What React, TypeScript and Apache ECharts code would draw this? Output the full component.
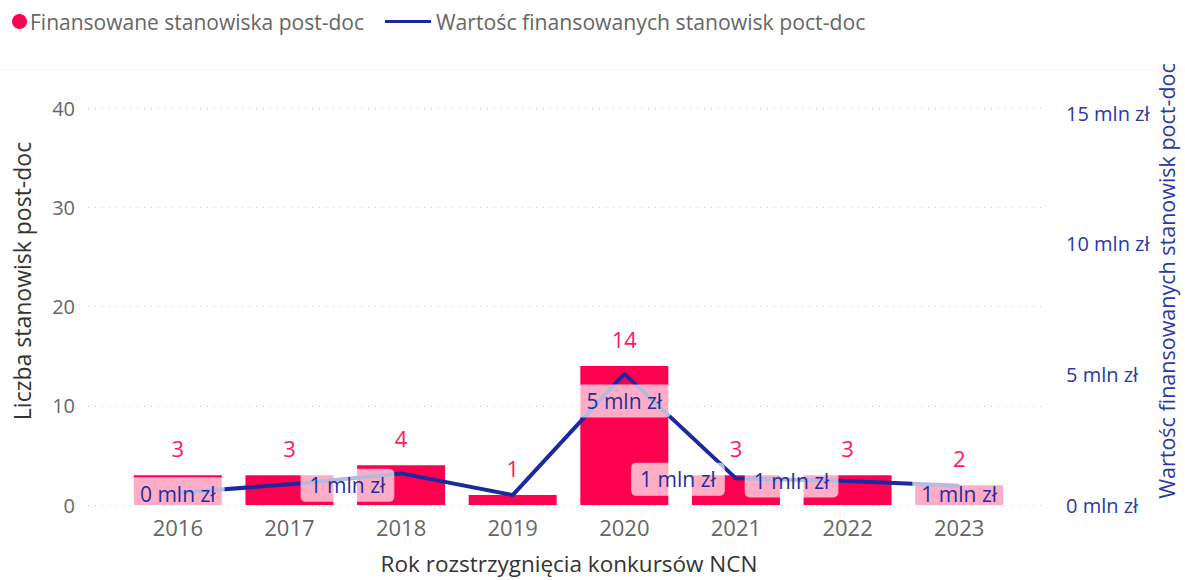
import React, { useEffect, useRef } from "react";
import * as echarts from "echarts";

const years = ["2016", "2017", "2018", "2019", "2020", "2021", "2022", "2023"];
const positions = [3, 3, 4, 1, 14, 3, 3, 2];
const valuesMln = [0.47, 0.79, 1.21, 0.38, 5.02, 1.02, 0.92, 0.74];
// which line labels are shown, and their offset from the point
const lineLabelShown = [true, true, false, false, true, true, true, true];
const lineLabelOffsets: [number, number][] = [
  [0, 1], [58, 1], [0, 0], [0, 0], [0, 27], [-58, 1], [-56, 0], [0, 8],
];

const leftTicks = [0, 10, 20, 30, 40];
const rightTicks = [0, 5, 10, 15];

const seriesNames = [
  "Finansowane stanowiska post-doc",
  "Wartośc finansowanych stanowisk poct-doc",
];
const axisTitles = {
  left: "Liczba stanowisk post-doc",
  right: "Wartośc finansowanych stanowisk poct-doc",
  bottom: "Rok rozstrzygnięcia konkursów NCN",
};

const FONT = "'Segoe UI', 'Open Sans', sans-serif";
const RED = "#FF0050";
const BLUE = "#1A2A9E";
const BLUE_TXT = "#2A3AA6";

export default function App() {
  const ref = useRef<HTMLDivElement>(null);
  useEffect(() => {
    if (!ref.current) return;
    const chart = echarts.init(ref.current, null, { renderer: "svg" });
    const top = 108;
    const bottom = 580 - 505;
    const option: any = {
      animation: false,
      textStyle: { fontFamily: FONT },
      legend: [
        {
          data: [{ name: seriesNames[0], icon: "circle" }],
          left: 7,
          top: 6,
          itemWidth: 15,
          itemHeight: 15,
          itemGap: 0,
          textStyle: { color: "#666", fontSize: 21, fontFamily: FONT, padding: [0, 0, 0, -2] },
          selectedMode: false,
        },
        {
          data: [{ name: seriesNames[1], icon: "path://M0,0H46V3H0Z" }],
          left: 380,
          top: 6,
          itemWidth: 46,
          itemHeight: 3,
          textStyle: { color: "#666", fontSize: 21.2, fontFamily: FONT },
          selectedMode: false,
        },
      ],
      grid: [
        { left: 88, right: 1185 - 1045, top, bottom },
        { left: 122, right: 1185 - 1015, top, bottom },
      ],
      xAxis: [
        { type: "category", gridIndex: 0, data: years, show: false },
        {
          type: "category",
          gridIndex: 1,
          data: years,
          axisLine: { show: false },
          axisTick: { show: false },
          axisLabel: { color: "#666", fontSize: 22, margin: 11, fontFamily: FONT },
        },
      ],
      yAxis: [
        {
          type: "value",
          gridIndex: 0,
          min: 0,
          max: 40,
          interval: 10,
          axisLabel: { show: false },
          axisLine: { show: false },
          axisTick: { show: false },
          splitLine: { lineStyle: { color: "#c8c8c8", type: [1, 6], width: 1 } },
        },
        {
          type: "value",
          gridIndex: 1,
          min: leftTicks[0],
          max: leftTicks[leftTicks.length - 1],
          interval: 10,
          axisLine: { show: false },
          axisTick: { show: false },
          splitLine: { show: false },
          axisLabel: { color: "#666", fontSize: 20, margin: 47, fontFamily: FONT },
        },
        {
          type: "value",
          gridIndex: 1,
          position: "right",
          min: rightTicks[0],
          max: 15.2,
          interval: 5,
          axisLine: { show: false },
          axisTick: { show: false },
          splitLine: { show: false },
          axisLabel: {
            color: BLUE_TXT,
            fontSize: 20,
            margin: 51,
            showMaxLabel: false,
            fontFamily: FONT,
            formatter: (v: number) => `${v} mln zł`,
          },
        },
      ],
      series: [
        {
          name: seriesNames[0],
          type: "bar",
          xAxisIndex: 1,
          yAxisIndex: 1,
          data: positions,
          barWidth: 88,
          itemStyle: { color: RED },
          label: {
            show: true,
            position: "top",
            distance: 16,
            color: "#FF1A5A",
            fontSize: 22,
            fontFamily: FONT,
          },
        },
        {
          name: seriesNames[1],
          type: "line",
          xAxisIndex: 1,
          yAxisIndex: 2,
          showSymbol: true,
          symbol: "circle",
          symbolSize: 1,
          lineStyle: { color: BLUE, width: 4 },
          itemStyle: { color: BLUE },
          data: valuesMln.map((v, i) => ({
            value: v,
            label: {
              show: lineLabelShown[i],
              position: "inside",
              offset: lineLabelOffsets[i],
              formatter: () => `${Math.round(v)} mln zł`,
              color: "#1E2E9C",
              fontSize: 21,
              fontFamily: FONT,
              backgroundColor: "rgba(255,255,255,0.68)",
              padding: [6, 9, 6, 9],
              borderRadius: 5,
            },
          })),
          z: 3,
        },
      ],
      graphic: [
        {
          type: "line",
          shape: { x1: 0, y1: 70, x2: 1185, y2: 70 },
          style: { stroke: "#f6f6f6", lineWidth: 1 },
        },
        {
          type: "text",
          x: 22,
          y: 281,
          rotation: Math.PI / 2,
          style: {
            text: axisTitles.left,
            fill: "#333",
            fontSize: 23,
            fontFamily: FONT,
            align: "center",
            verticalAlign: "middle",
          },
        },
        {
          type: "text",
          x: 1166,
          y: 281,
          rotation: Math.PI / 2,
          style: {
            text: axisTitles.right,
            fill: BLUE_TXT,
            fontSize: 21.5,
            fontFamily: FONT,
            align: "center",
            verticalAlign: "middle",
          },
        },
        {
          type: "text",
          x: 569,
          y: 563,
          style: {
            text: axisTitles.bottom,
            fill: "#333",
            fontSize: 22.5,
            fontFamily: FONT,
            align: "center",
            verticalAlign: "middle",
          },
        },
      ],
    };
    chart.setOption(option);
    return () => chart.dispose();
  }, []);
  return (
    <div
      ref={ref}
      style={{ position: "fixed", left: 0, top: 0, width: 1185, height: 580, background: "#fff" }}
    />
  );
}
